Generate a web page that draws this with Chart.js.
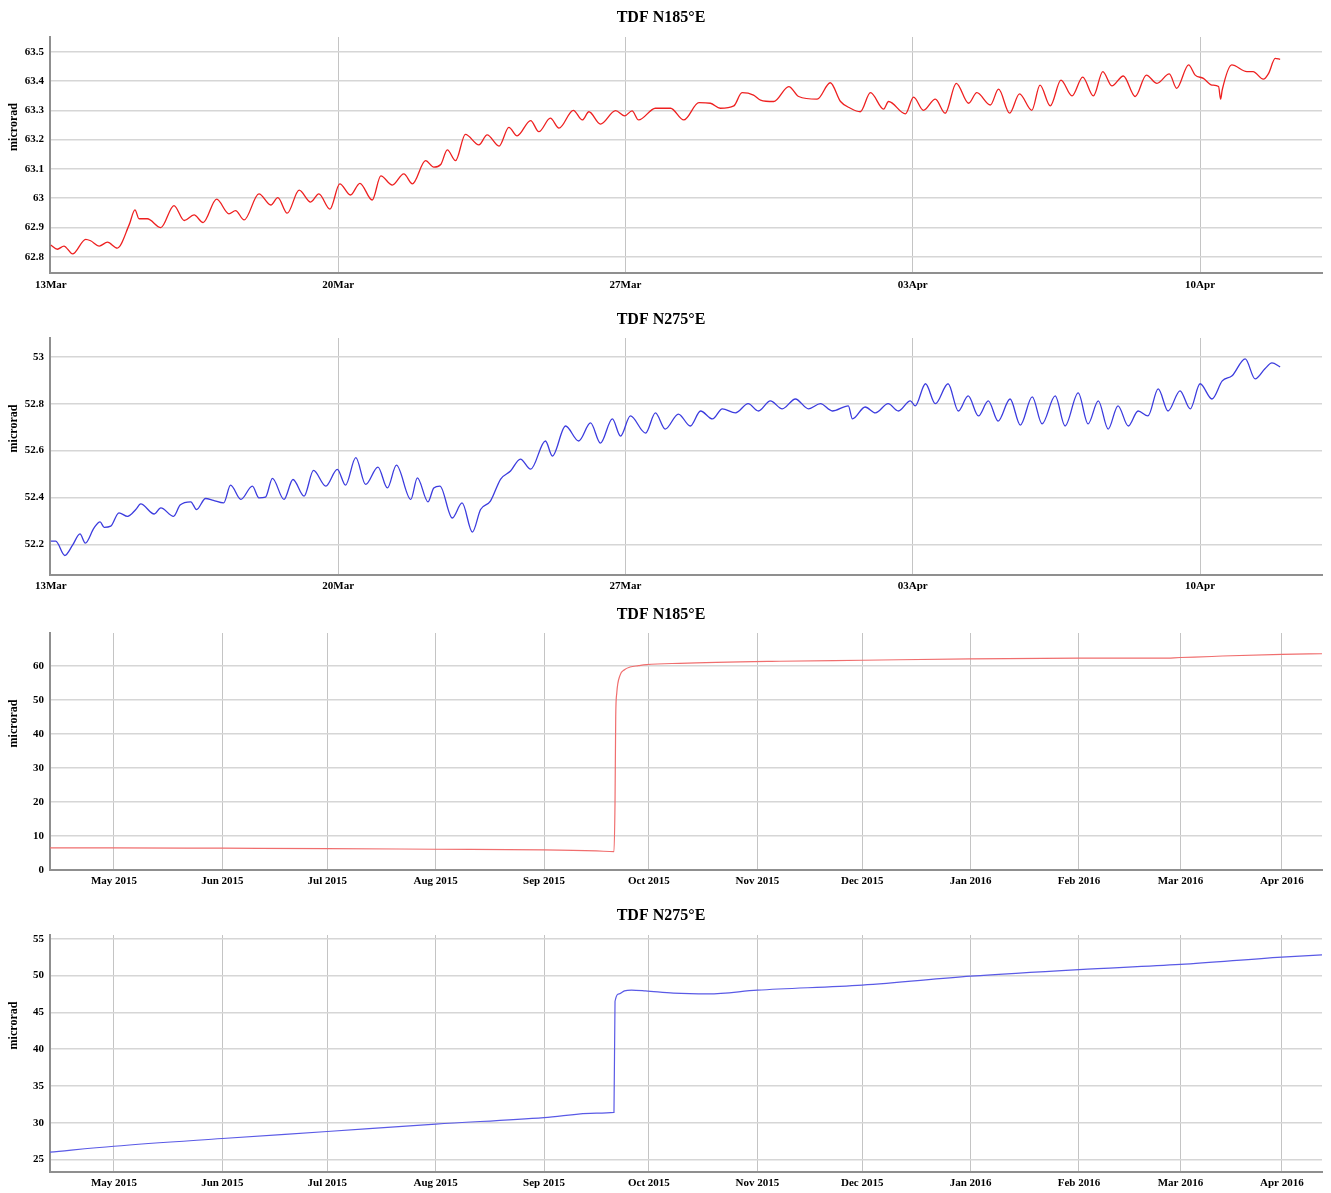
<!DOCTYPE html>
<html>
<head>
<meta charset="utf-8">
<script src="https://cdn.jsdelivr.net/npm/chart.js@4.4.0/dist/chart.umd.min.js"></script>
<style>
    body { margin: 0; background: #fff; width: 1331px; height: 1193px; overflow: hidden; }
    .bloco { position: absolute; left: 0; width: 1331px; }
</style>
</head>
<body>
<div class="bloco" style="top:0px;height:300px"><canvas id="grafico1"></canvas></div>
<div class="bloco" style="top:300px;height:300px"><canvas id="grafico2"></canvas></div>
<div class="bloco" style="top:600px;height:300px"><canvas id="grafico3"></canvas></div>
<div class="bloco" style="top:900px;height:293px"><canvas id="grafico4"></canvas></div>
<script>
// DIAS CONTADOS A PARTIR DE 13 DE MARCO DE 2016 (GRAFICOS 1 E 2)
var dias_semana = [0, 7, 14, 21, 28];
var rotulos_semana = ['13Mar', '20Mar', '27Mar', '03Apr', '10Apr'];

// DIAS CONTADOS A PARTIR DE 1 DE MAIO DE 2015 (GRAFICOS 3 E 4)
var dias_mes = [0, 31, 61, 92, 123, 153, 184, 214, 245, 276, 305, 334];
var rotulos_mes = ['May 2015', 'Jun 2015', 'Jul 2015', 'Aug 2015', 'Sep 2015', 'Oct 2015',
    'Nov 2015', 'Dec 2015', 'Jan 2016', 'Feb 2016', 'Mar 2016', 'Apr 2016'];

var ticks_y1 = [62.8, 62.9, 63, 63.1, 63.2, 63.3, 63.4, 63.5];
var ticks_y2 = [52.2, 52.4, 52.6, 52.8, 53];
var ticks_y3 = [0, 10, 20, 30, 40, 50, 60];
var ticks_y4 = [25, 30, 35, 40, 45, 50, 55];

// TDF N185°E - ULTIMO MES
var dias1 = [0.00,0.16,0.32,0.53,0.85,0.97,1.18,1.38,1.62,1.91,
    2.05,2.15,2.35,2.68,3.00,3.25,3.49,3.71,4.04,4.34,
    4.50,4.71,5.07,5.36,5.53,5.76,6.05,6.33,6.53,6.80,
    7.04,7.30,7.53,7.83,8.04,8.32,8.60,8.81,9.13,9.33,
    9.50,9.66,9.86,10.10,10.43,10.63,10.92,11.16,11.36,11.69,
    11.89,12.17,12.38,12.73,12.95,13.11,13.39,13.76,13.98,14.16,
    14.32,14.73,15.10,15.42,15.79,16.07,16.31,16.64,16.84,17.12,
    17.29,17.61,17.98,18.22,18.67,18.99,19.24,19.48,19.72,19.97,
    20.29,20.41,20.82,21.02,21.26,21.55,21.79,22.06,22.36,22.56,
    22.89,23.09,23.36,23.60,23.90,24.10,24.35,24.61,24.88,25.14,
    25.40,25.63,25.85,26.13,26.42,26.69,26.95,27.25,27.43,27.72,
    27.88,28.08,28.29,28.45,28.50,28.54,28.77,29.14,29.29,29.54,
    29.67,29.83,29.95];
var tdf1 = [62.84,62.826,62.837,62.81,62.86,62.855,62.837,62.85,62.83,62.91,
    62.96,62.93,62.93,62.90,62.975,62.924,62.943,62.917,62.997,62.947,
    62.958,62.926,63.015,62.977,63.002,62.949,63.028,62.987,63.015,62.963,
    63.049,63.011,63.051,62.994,63.076,63.045,63.083,63.049,63.128,63.106,
    63.115,63.165,63.128,63.218,63.182,63.216,63.178,63.242,63.213,63.265,
    63.227,63.273,63.239,63.30,63.267,63.295,63.253,63.299,63.281,63.298,
    63.267,63.307,63.307,63.267,63.326,63.324,63.307,63.315,63.36,63.352,
    63.335,63.33,63.381,63.347,63.338,63.394,63.33,63.307,63.295,63.36,
    63.304,63.33,63.288,63.345,63.30,63.338,63.29,63.392,63.324,63.36,
    63.318,63.372,63.29,63.356,63.30,63.386,63.315,63.403,63.349,63.413,
    63.349,63.432,63.383,63.417,63.347,63.42,63.392,63.424,63.375,63.455,
    63.42,63.409,63.386,63.381,63.338,63.37,63.455,63.432,63.432,63.406,
    63.426,63.477,63.474];

// TDF N275°E - ULTIMO MES
var dias2 = [0.00,0.12,0.34,0.53,0.71,0.84,1.05,1.20,1.30,1.46,
    1.66,1.87,2.07,2.19,2.52,2.68,2.99,3.15,3.41,3.55,
    3.77,3.96,4.21,4.38,4.63,4.91,5.07,5.23,5.40,5.68,
    5.90,6.17,6.40,6.70,6.98,7.18,7.43,7.67,7.97,8.20,
    8.42,8.77,8.93,9.19,9.33,9.48,9.78,10.02,10.27,10.47,
    10.71,10.96,11.20,11.44,11.69,12.05,12.22,12.54,12.86,13.15,
    13.39,13.68,13.88,14.12,14.49,14.73,14.97,15.29,15.58,15.83,
    16.12,16.36,16.68,16.99,17.24,17.53,17.82,18.14,18.46,18.75,
    19.04,19.43,19.53,19.84,20.09,20.40,20.65,20.94,21.06,21.31,
    21.55,21.86,22.11,22.35,22.60,22.84,23.08,23.37,23.62,23.91,
    24.15,24.47,24.71,25.03,25.27,25.52,25.76,26.00,26.25,26.49,
    26.73,26.98,27.22,27.51,27.76,28.00,28.29,28.54,28.78,29.10,
    29.34,29.58,29.75,29.95];
var tdf2 = [52.214,52.214,52.153,52.197,52.245,52.206,52.27,52.296,52.273,52.278,
    52.335,52.32,52.349,52.373,52.33,52.356,52.32,52.368,52.382,52.349,
    52.396,52.388,52.377,52.453,52.392,52.449,52.399,52.402,52.482,52.392,
    52.477,52.406,52.516,52.449,52.52,52.453,52.57,52.456,52.53,52.441,
    52.538,52.392,52.484,52.382,52.441,52.449,52.313,52.377,52.253,52.349,
    52.385,52.479,52.513,52.564,52.521,52.641,52.577,52.705,52.641,52.718,
    52.632,52.735,52.662,52.748,52.675,52.761,52.692,52.756,52.705,52.769,
    52.735,52.778,52.761,52.80,52.769,52.812,52.778,52.82,52.778,52.80,
    52.769,52.791,52.735,52.786,52.761,52.80,52.769,52.812,52.791,52.885,
    52.80,52.885,52.769,52.833,52.748,52.812,52.726,52.82,52.709,52.829,
    52.714,52.833,52.705,52.846,52.714,52.812,52.692,52.791,52.705,52.769,
    52.748,52.863,52.769,52.855,52.778,52.885,52.82,52.897,52.919,52.991,
    52.906,52.949,52.974,52.957];

// TDF N185°E - ULTIMO ANO
var dias3 = [-18.3, 0, 31, 61, 92, 123, 138, 143.0, 143.3, 143.5, 143.8, 144.7, 146, 147.6, 150, 152.3,
    161.8, 190.4, 214, 245, 276, 300, 305, 314, 317, 334, 345.5];
var tdf3 = [6.5, 6.5, 6.4, 6.3, 6.1, 5.9, 5.6, 5.4, 20, 45, 52, 57.1, 58.8, 59.6, 60.0, 60.3,
    60.7, 61.3, 61.6, 62.0, 62.2, 62.2, 62.4, 62.7, 62.84, 63.35, 63.5];

// TDF N275°E - ULTIMO ANO
var dias4 = [-18.3, 0, 31, 61, 92, 123, 138, 143.0, 143.3, 144.5, 146, 148, 152, 160, 170, 184,
    214, 245, 276, 305, 334, 345.5];
var tdf4 = [26.0, 26.8, 27.85, 28.8, 29.8, 30.7, 31.3, 31.4, 46.5, 47.5, 47.9, 48.0, 47.9, 47.6, 47.5, 48.0,
    48.7, 49.9, 50.8, 51.5, 52.5, 52.8];

var fonte = 'Liberation Serif';

// ESCREVE "microrad" NA LATERAL, UM POUCO ACIMA DO CENTRO DO GRAFICO
const rotuloLateral = {
    id: 'rotuloLateral',
    afterDraw(chart) {
        const ctx = chart.ctx;
        const area = chart.chartArea;
        ctx.save();
        ctx.translate(14, (area.top + area.bottom) / 2 - 28);
        ctx.rotate(-Math.PI / 2);
        ctx.font = 'bold 12px ' + fonte;
        ctx.fillStyle = '#000';
        ctx.textAlign = 'center';
        ctx.textBaseline = 'middle';
        ctx.fillText('microrad', 0, 0);
        ctx.restore();
    }
};

function montarGrafico(id, cfg) {
    const pontos = cfg.dias.map(function (d, i) { return { x: d, y: cfg.valores[i] }; });
    return new Chart(document.getElementById(id), {
        type: 'line',
        data: {
            datasets: [{
                data: pontos,
                borderColor: cfg.cor,
                borderWidth: cfg.espessura,
                pointRadius: 0,
                cubicInterpolationMode: 'monotone',
                fill: false
            }]
        },
        options: {
            animation: false,
            responsive: true,
            maintainAspectRatio: false,
            layout: { padding: { left: 0, right: 9, top: 0, bottom: 0 } },
            scales: {
                x: {
                    type: 'linear',
                    min: cfg.xmin,
                    max: cfg.xmax,
                    afterBuildTicks: function (eixo) {
                        eixo.ticks = cfg.xticks.map(function (v) { return { value: v }; });
                    },
                    afterFit: function (eixo) { eixo.height = cfg.alturaX; },
                    ticks: {
                        autoSkip: false,
                        maxRotation: 0,
                        padding: cfg.padX,
                        color: '#000',
                        font: { family: fonte, size: 11, weight: 'bold' },
                        callback: function (v) {
                            const i = cfg.xticks.indexOf(v);
                            return i >= 0 ? cfg.xrotulos[i] : '';
                        }
                    },
                    grid: { color: '#c4c4c4', lineWidth: 1, drawTicks: false },
                    border: { color: '#8f8f8f', width: 2 }
                },
                y: {
                    min: cfg.ymin,
                    max: cfg.ymax,
                    afterBuildTicks: function (eixo) {
                        eixo.ticks = cfg.yticks.map(function (v) { return { value: v }; });
                    },
                    afterFit: function (eixo) { eixo.width = 50; },
                    ticks: {
                        padding: 6,
                        color: '#000',
                        font: { family: fonte, size: 11, weight: 'bold' },
                        callback: function (v) { return String(Math.round(v * 10) / 10); }
                    },
                    grid: { color: '#d6d6d6', lineWidth: 1.5, drawTicks: false },
                    border: { color: '#8f8f8f', width: 2 }
                }
            },
            plugins: {
                legend: { display: false },
                tooltip: { enabled: false },
                title: {
                    display: true,
                    text: cfg.titulo,
                    color: '#000',
                    font: { family: fonte, size: 16, weight: 'bold' },
                    padding: { top: cfg.tituloTopo, bottom: cfg.tituloBase }
                }
            }
        },
        plugins: [rotuloLateral]
    });
}

montarGrafico('grafico1', {
    titulo: 'TDF N185°E', dias: dias1, valores: tdf1, cor: 'rgb(238,32,32)', espessura: 1.3,
    xmin: -0.02, xmax: 30.97, xticks: dias_semana, xrotulos: rotulos_semana,
    ymin: 62.745, ymax: 63.55, yticks: ticks_y1,
    tituloTopo: 8.4, tituloBase: 9.4, alturaX: 27, padX: 5.4
});

montarGrafico('grafico2', {
    titulo: 'TDF N275°E', dias: dias2, valores: tdf2, cor: 'rgb(60,60,222)', espessura: 1.3,
    xmin: -0.02, xmax: 30.97, xticks: dias_semana, xrotulos: rotulos_semana,
    ymin: 52.07, ymax: 53.08, yticks: ticks_y2,
    tituloTopo: 10.4, tituloBase: 8.4, alturaX: 25, padX: 4.4
});

montarGrafico('grafico3', {
    titulo: 'TDF N185°E', dias: dias3, valores: tdf3, cor: 'rgb(240,110,110)', espessura: 1.2,
    xmin: -18.3, xmax: 345.5, xticks: dias_mes, xrotulos: rotulos_mes,
    ymin: 0, ymax: 69.6, yticks: ticks_y3,
    tituloTopo: 5.4, tituloBase: 8.4, alturaX: 30, padX: 4.4
});

montarGrafico('grafico4', {
    titulo: 'TDF N275°E', dias: dias4, valores: tdf4, cor: 'rgb(90,90,230)', espessura: 1.2,
    xmin: -18.3, xmax: 345.5, xticks: dias_mes, xrotulos: rotulos_mes,
    ymin: 23.3, ymax: 55.5, yticks: ticks_y4,
    tituloTopo: 6.4, tituloBase: 9.4, alturaX: 21, padX: 4.4
});
</script>
</body>
</html>
